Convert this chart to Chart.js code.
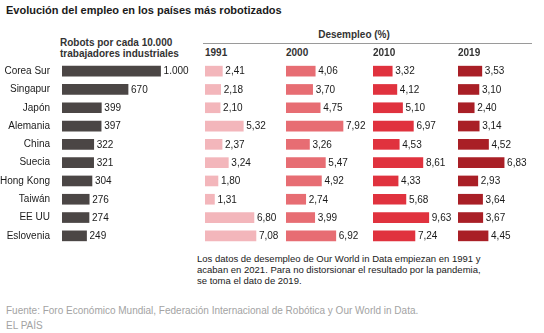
<!DOCTYPE html>
<html lang="es">
<head>
<meta charset="utf-8">
<title>Evolución del empleo en los países más robotizados</title>
<script src="https://cdn.jsdelivr.net/npm/chart.js@4/dist/chart.umd.min.js"></script>
<style>
  body { margin: 0; width: 544px; height: 333px; background: #fff; position: relative; overflow: hidden;
         font-family: "Liberation Sans", Arial, sans-serif; color: #1a1a1a; }
  .txt { position: absolute; white-space: nowrap; }
  canvas { position: absolute; }
  #titulo { left: 6px; top: 3px; font-size: 11px; line-height: 14px; font-weight: bold; }
  #robots-h { left: 60px; top: 36.5px; font-size: 10px; line-height: 11px; font-weight: bold; color: #333; }
  #desempleo-h { left: 354px; top: 29px; font-size: 10px; line-height: 12px; font-weight: bold; color: #333; transform: translateX(-50%); }
  #regla { position: absolute; left: 203px; top: 43px; width: 329px; height: 1px; background: #9a9a9a; }
  .anio { top: 46.5px; font-size: 10px; line-height: 12px; font-weight: bold; color: #333; }
  #nota { left: 197px; top: 252.6px; font-size: 9.5px; line-height: 11.4px; }
  #fuente { left: 6px; top: 305px; font-size: 10px; line-height: 12px; color: #a3a3a3; }
  #firma { left: 6px; top: 320px; font-size: 10px; line-height: 12px; color: #a3a3a3; }
</style>
</head>
<body>
<div class="txt" id="titulo">Evolución del empleo en los países más robotizados</div>
<div class="txt" id="robots-h">Robots por cada 10.000<br>trabajadores industriales</div>
<div class="txt" id="desempleo-h">Desempleo (%)</div>
<div id="regla"></div>
<div class="txt" id="nota">Los datos de desempleo de Our World in Data empiezan en 1991 y<br>acaban en 2021. Para no distorsionar el resultado por la pandemia,<br>se toma el dato de 2019.</div>
<div class="txt" id="fuente">Fuente: Foro Económico Mundial, Federación Internacional de Robótica y Our World in Data.</div>
<div class="txt" id="firma">EL PAÍS</div>

<canvas id="c-robots" width="200" height="183" style="left:0;top:62px"></canvas>

<script>
// Datos
const paises = ['Corea Sur', 'Singapur', 'Japón', 'Alemania', 'China', 'Suecia', 'Hong Kong', 'Taiwán', 'EE UU', 'Eslovenia'];
const robots = [1000, 670, 399, 397, 322, 321, 304, 276, 274, 249];
const anios = ['1991', '2000', '2010', '2019'];
const paro1991 = [2.41, 2.18, 2.10, 5.32, 2.37, 3.24, 1.80, 1.31, 6.80, 7.08];
const paro2000 = [4.06, 3.70, 4.75, 7.92, 3.26, 5.47, 4.92, 2.74, 3.99, 6.92];
const paro2010 = [3.32, 4.12, 5.10, 6.97, 4.53, 8.61, 4.33, 5.68, 9.63, 7.24];
const paro2019 = [3.53, 3.10, 2.40, 3.14, 4.52, 6.83, 2.93, 3.64, 3.67, 4.45];

// Columnas de desempleo: posición, color y tope de escala de cada año
const columnas = [
  { serie: paro1991, left: 205, color: '#f3b6bb', max: 11.67 },
  { serie: paro2000, left: 286, color: '#e76d73', max: 11.67 },
  { serie: paro2010, left: 373, color: '#e0323e', max: 14.5 },
  { serie: paro2019, left: 458, color: '#a91f26', max: 12.44 }
];

const FUENTE = '"Liberation Sans", Arial, sans-serif';

// Formato español: 1.000 y 2,41
function formato(v, decimales) {
  const s = v.toFixed(decimales).split('.');
  s[0] = s[0].replace(/\B(?=(\d{3})+(?!\d))/g, '.');
  return s.join(',');
}

// Etiqueta de valor al final de cada barra
const etiquetas = {
  id: 'etiquetas',
  afterDatasetsDraw(chart, args, opts) {
    const ctx = chart.ctx;
    const meta = chart.getDatasetMeta(0);
    const datos = chart.data.datasets[0].data;
    ctx.save();
    ctx.font = '10px ' + FUENTE;
    ctx.fillStyle = '#1a1a1a';
    ctx.textBaseline = 'middle';
    ctx.textAlign = 'left';
    meta.data.forEach((bar, i) => {
      ctx.fillText(formato(datos[i], opts.decimales), bar.x + 3, bar.y + 0.5);
    });
    ctx.restore();
  }
};

function grafico(canvas, valores, color, max, conPaises, decimales) {
  return new Chart(canvas, {
    type: 'bar',
    data: { labels: paises, datasets: [{ data: valores, backgroundColor: color, barThickness: 10, borderWidth: 0 }] },
    options: {
      indexAxis: 'y',
      responsive: false,
      animation: false,
      devicePixelRatio: 1,
      layout: { padding: 0 },
      plugins: { legend: { display: false }, tooltip: { enabled: false }, etiquetas: { decimales } },
      scales: {
        x: { display: false, min: 0, max: max },
        y: {
          display: conPaises,
          grid: { display: false },
          border: { display: false },
          ticks: { color: '#1a1a1a', font: { family: FUENTE, size: 10 }, padding: 4 },
          // ancho fijo para los nombres y sin margen vertical extra
          afterFit: s => {
            s.width = conPaises ? 62 : 0;
            s.paddingTop = 0;
            s.paddingBottom = 0;
          }
        }
      }
    },
    plugins: [etiquetas]
  });
}

// Robots por cada 10.000 trabajadores
grafico(document.getElementById('c-robots'), robots, '#4b4645', 1400, true, 0);

// Desempleo por año
columnas.forEach((col, i) => {
  const anio = document.createElement('div');
  anio.className = 'txt anio';
  anio.style.left = col.left + 'px';
  anio.textContent = anios[i];
  document.body.appendChild(anio);

  const c = document.createElement('canvas');
  c.width = 84;
  c.height = 183;
  c.style.left = col.left + 'px';
  c.style.top = '62px';
  document.body.appendChild(c);
  grafico(c, col.serie, col.color, col.max, false, 2);
});
</script>
</body>
</html>
